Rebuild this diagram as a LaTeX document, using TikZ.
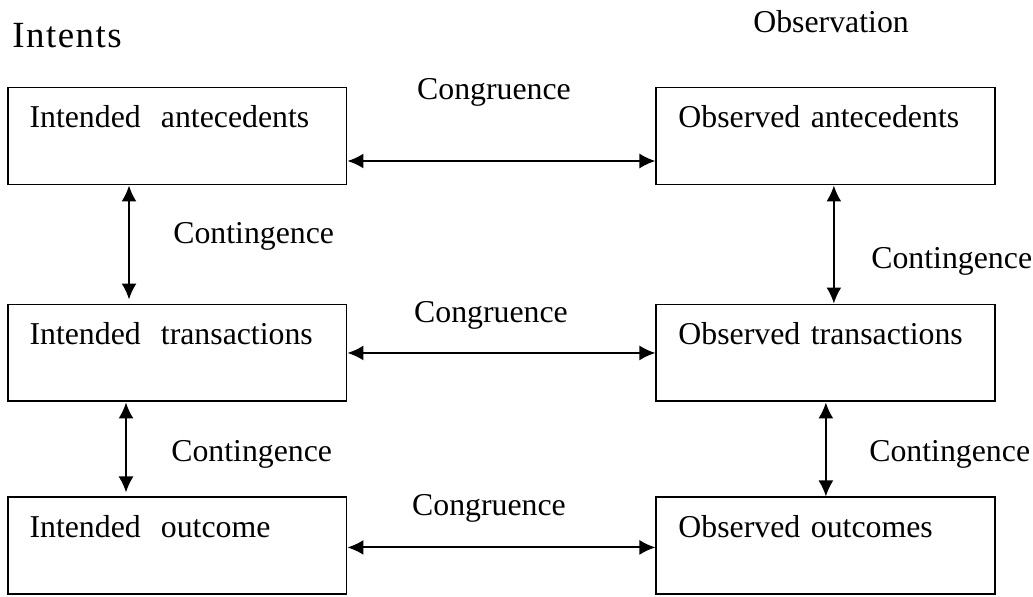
\documentclass[tikz,border=0pt]{standalone}
\usepackage{fontspec}
\setmainfont{Liberation Serif}
\usepackage{tikz}
\usetikzlibrary{arrows.meta,positioning,calc}

\begin{document}
\begin{tikzpicture}[
    x=0.02cm, y=-0.02cm,
    box/.style={rectangle, draw, line width=1.1pt, text width=5.9cm, inner xsep=0.44cm, inner ysep=0.2cm,
        text height=0.6cm, text depth=0.94cm, align=left, font=\fontsize{18.1}{21}\selectfont},
    lbl/.style={inner sep=0pt, font=\fontsize{18.1}{21}\selectfont},
    arrow/.style={{Latex[length=0.32cm,width=0.3cm]}-{Latex[length=0.32cm,width=0.3cm]}, line width=1.1pt}
]
\useasboundingbox (0,0) rectangle (1033,596);

% Column headings
\node[lbl, anchor=base west, font=\fontsize{21}{24}\selectfont\addfontfeature{LetterSpace=4}] (intents) at (12,47) {Intents};
\node[lbl, anchor=base west] (observation) at (753,32) {Observation};

% Boxes
\node[box] (intant) at (177,136) {Intended\hspace{0.3em} antecedents};
\node[box, right of=intant, node distance=12.98cm] (obsant) {Observed antecedents};
\node[box, below of=intant, node distance=4.34cm] (inttra) {Intended\hspace{0.3em} transactions};
\node[box, below of=obsant, node distance=4.34cm] (obstra) {Observed transactions};
\node[box, below of=inttra, node distance=3.86cm] (intout) {Intended\hspace{0.3em} outcome};
\node[box, below of=obstra, node distance=3.86cm] (obsout) {Observed outcomes};

% Labels
\node[lbl, anchor=base] (cong1) at (494,99) {Congruence};
\node[lbl, anchor=base] (cong2) at (491,322) {Congruence};
\node[lbl, anchor=base] (cong3) at (489,515) {Congruence};
\node[lbl, anchor=base west] (cont1) at (173,243) {Contingence};
\node[lbl, anchor=base west] (cont2) at (871,268) {Contingence};
\node[lbl, anchor=base west] (cont3) at (171,461) {Contingence};
\node[lbl, anchor=base west] (cont4) at (869,461) {Contingence};

% Arrows
\draw[arrow] ([yshift=-0.5cm]intant.east) -- ([yshift=-0.5cm]obsant.west);
\draw[arrow] (inttra) -- (obstra);
\draw[arrow] ([yshift=-0.03cm]intout.east) -- ([yshift=-0.03cm]obsout.west);
\draw[arrow, shorten >=0.08cm] ([xshift=-0.96cm]intant.south) -- ([xshift=-0.96cm]inttra.north);
\draw[arrow, shorten >=0.08cm] ([xshift=-1.02cm]inttra.south) -- ([xshift=-1.02cm]intout.north);
\draw[arrow] ([xshift=0.16cm]obsant.south) -- ([xshift=0.16cm]obstra.north);
\draw[arrow] (obstra.south) -- (obsout.north);

\end{tikzpicture}
\end{document}
